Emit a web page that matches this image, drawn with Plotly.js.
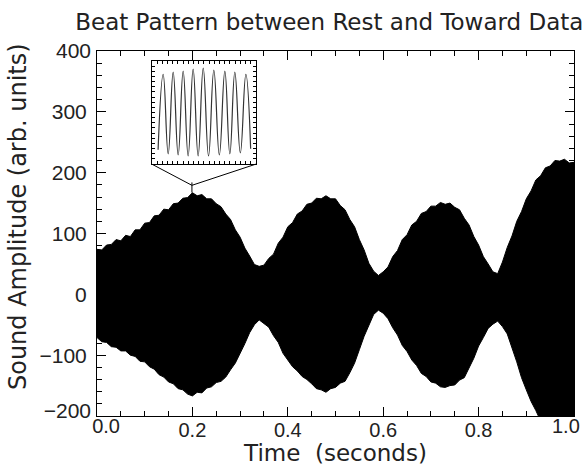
<!DOCTYPE html>
<html>
<head>
<meta charset="utf-8">
<script src="https://cdn.plot.ly/plotly-3.0.1.min.js"></script>
<style>html,body{margin:0;padding:0;background:#fff;}#chart{width:587px;height:466px;}</style>
</head>
<body>
<div id="chart"></div>
<script>
// Envelope of the beat signal (time step 0.01 s)
var time = [];
for (var k = 0; k <= 100; k++) time.push(k / 100);
var upper = [74,73,81,82,90,88,97,95,106,106,117,118,129,130,140,139,149,150,158,159,
             167,162,164,157,157,149,144,132,123,106,94,76,63,49,46,48,59,66,84,94,
             111,118,132,137,148,150,158,157,162,157,157,146,139,123,111,90,73,51,38,31,
             37,45,62,72,90,98,114,120,133,136,145,145,151,148,150,143,139,125,114,95,
             81,62,50,37,34,53,77,96,120,136,157,170,188,195,208,211,220,219,222,216,217];
var lower = [-71,-78,-79,-86,-87,-93,-93,-100,-102,-110,-111,-119,-123,-132,-136,-144,-147,-155,-157,-164,
             -167,-161,-162,-154,-152,-145,-143,-136,-124,-113,-96,-81,-63,-50,-42,-48,-54,-68,-79,-97,
             -107,-119,-126,-135,-140,-147,-155,-157,-161,-155,-153,-146,-143,-129,-113,-91,-69,-51,-33,-26,
             -31,-40,-55,-67,-84,-94,-108,-117,-130,-135,-144,-146,-152,-153,-150,-149,-141,-137,-120,-105,
             -85,-71,-56,-49,-44,-53,-65,-89,-111,-137,-157,-176,-191,-208,-222,-235,-245,-252,-256,-258,-260];

// Inset: one short stretch of the waveform (peaks and troughs)
var insetPeakX = [0.109,0.205,0.301,0.397,0.494,0.596,0.702,0.798,0.904];
var insetPeakY = [0.87,0.89,0.90,0.92,0.93,0.91,0.90,0.89,0.87];
var insetTroughX = [0.060,0.157,0.253,0.349,0.445,0.545,0.649,0.750,0.851,0.950];
var insetTroughY = [0.14,0.10,0.09,0.08,0.08,0.08,0.09,0.10,0.11,0.15];

// Tick labels
var xTickVals = [0.0,0.2,0.4,0.6,0.8,1.0];
var xTickText = ['','0.2','0.4','0.6','0.8',''];
var xEndVals = [0.019,0.983];
var xEndText = ['0.0','1.0'];
var yTickVals = [-200,-100,0,100,200,300,400];
var yTickText = ['','\u2212100','0','100','200','300',''];
var yEndVals = [-192,400];
var yEndText = ['\u2212200','400'];

var polyX = time.concat(time.slice().reverse());
var polyY = upper.concat(lower.slice().reverse());

var wx = [], wy = [];
for (var i = 0; i < insetTroughX.length; i++) {
  wx.push(insetTroughX[i]); wy.push(insetTroughY[i]);
  if (i < insetPeakX.length) { wx.push(insetPeakX[i]); wy.push(insetPeakY[i]); }
}

var TFONT = 'DejaVu Sans';
var NFONT = 'Liberation Sans';
var TXT = '#222';
var traces = [
  {x: polyX, y: polyY, type: 'scatter', mode: 'lines', fill: 'toself',
   fillcolor: '#000', line: {color: '#000', width: 1}, hoverinfo: 'skip', xaxis: 'x', yaxis: 'y'},
  {x: wx, y: wy, type: 'scatter', mode: 'lines', line: {color: '#333', width: 1.2, shape: 'spline', smoothing: 1.3},
   xaxis: 'x2', yaxis: 'y2', hoverinfo: 'skip'},
  {x: xEndVals, y: yEndVals, type: 'scatter', mode: 'markers', marker: {size: 1, opacity: 0},
   xaxis: 'x3', yaxis: 'y3', hoverinfo: 'skip'}
];

var layout = {
  width: 587, height: 466,
  margin: {l: 97, r: 13, t: 51, b: 50},
  paper_bgcolor: '#fff', plot_bgcolor: '#fff',
  showlegend: false,
  font: {family: NFONT, color: TXT, size: 21},
  title: {text: 'Beat Pattern between Rest and Toward Data', font: {family: TFONT, size: 23, color: TXT},
          x: 0.561, xanchor: 'center', y: 0.953, yanchor: 'middle'},
  xaxis: {range: [0, 1], tickvals: xTickVals, ticktext: xTickText, ticks: 'inside', ticklen: 9,
          tickcolor: '#000', showline: true, linecolor: '#000', linewidth: 1, mirror: 'ticks',
          showgrid: false, zeroline: false, tickfont: {family: NFONT, size: 20, color: TXT},
          ticklabeloverflow: 'allow', ticklabelstandoff: -4,
          minor: {dtick: 0.05, tick0: 0, ticks: 'inside', ticklen: 5, tickcolor: '#000', showgrid: false},
          title: {text: 'Time  (seconds)', font: {family: TFONT, size: 23, color: TXT}, standoff: 5}},
  xaxis3: {overlaying: 'x', anchor: 'y3', side: 'bottom', range: [0, 1], tickvals: xEndVals, ticktext: xEndText,
           ticks: '', showline: false, showgrid: false, zeroline: false, ticklabeloverflow: 'allow',
           ticklabelstandoff: -4, tickfont: {family: NFONT, size: 20, color: TXT}},
  yaxis: {range: [-200, 400], tickvals: yTickVals, ticktext: yTickText, ticks: 'inside', ticklen: 9,
          tickcolor: '#000', showline: true, linecolor: '#000', linewidth: 1, mirror: 'ticks',
          showgrid: false, zeroline: false, tickfont: {family: NFONT, size: 21, color: TXT}, ticklabelstandoff: 5,
          minor: {dtick: 20, tick0: 0, ticks: 'inside', ticklen: 5, tickcolor: '#000', showgrid: false},
          title: {text: '<span style="color:#ffffff">AA</span>Sound Amplitude (arb. units)', font: {family: TFONT, size: 24, color: TXT}, standoff: 6}},
  yaxis3: {overlaying: 'y', anchor: 'x3', side: 'left', range: [-200, 400], tickvals: yEndVals, ticktext: yEndText,
           ticks: '', showline: false, showgrid: false, zeroline: false, ticklabelstandoff: 5,
           ticklabeloverflow: 'allow', tickfont: {family: NFONT, size: 21, color: TXT}},
  xaxis2: {domain: [0.115, 0.333], anchor: 'y2', range: [0, 1], showticklabels: false, ticks: 'inside',
           ticklen: 3, dtick: 0.05, tickcolor: '#000', showline: true, linecolor: '#000', mirror: 'ticks',
           showgrid: false, zeroline: false},
  yaxis2: {domain: [0.690, 0.973], anchor: 'x2', range: [0, 1], showticklabels: false, ticks: 'inside',
           ticklen: 3, dtick: 0.05, tickcolor: '#000', showline: true, linecolor: '#000', mirror: 'ticks',
           showgrid: false, zeroline: false},
  shapes: [
    {type: 'line', xref: 'paper', yref: 'paper', x0: 0.115, y0: 0.690, x1: 0.199, y1: 0.632, line: {color: '#000', width: 1}},
    {type: 'line', xref: 'paper', yref: 'paper', x0: 0.333, y0: 0.690, x1: 0.199, y1: 0.632, line: {color: '#000', width: 1}},
    {type: 'line', xref: 'paper', yref: 'paper', x0: 0.199, y0: 0.640, x1: 0.199, y1: 0.612, line: {color: '#000', width: 1}}
  ]
};

Plotly.newPlot('chart', traces, layout, {displayModeBar: false, staticPlot: true});
</script>
</body>
</html>
